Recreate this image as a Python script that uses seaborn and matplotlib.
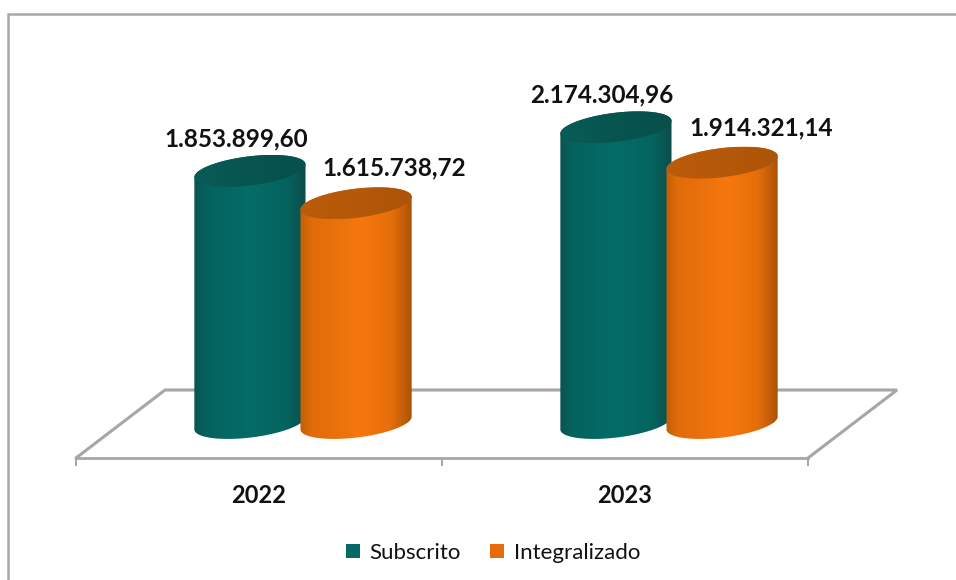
import numpy as np
import pandas as pd
import seaborn as sns
import matplotlib
matplotlib.use("Agg")
import matplotlib.pyplot as plt
from matplotlib.colors import LinearSegmentedColormap
from matplotlib.lines import Line2D
from matplotlib.path import Path

years = ["2022", "2023"]
series = ["Subscrito", "Integralizado"]
subscrito = [1853899.60, 2174304.96]
integralizado = [1615738.72, 1914321.14]
value_labels = {"Subscrito": ["1.853.899,60", "2.174.304,96"],
                "Integralizado": ["1.615.738,72", "1.914.321,14"]}

W, H = 956, 580
PX_PER_CAT = 366.0
PX_PER_UNIT = 136e-6
BASE_PX = 423
A, B, TILT = 56.0, 14.5, np.deg2rad(7.0)

sns.set_theme(style="white")
plt.rcParams["font.family"] = ["Lato", "DejaVu Sans"]

df = pd.DataFrame({
    "ano": years * 2,
    "serie": [series[0]] * 2 + [series[1]] * 2,
    "valor": subscrito + integralizado,
})

fig = plt.figure(figsize=(W / 100, H / 100), dpi=100, facecolor="white")

def rect(l, t, r, b):
    return [l / W, 1 - b / H, (r - l) / W, (b - t) / H]

# floor of the 3D chart, which carries the category axis
GRAY = "#a6a6a6"
floor = fig.add_axes(rect(76, 390, 808, 458))
floor.set_xlim(-0.5, 1.5)
floor.set_ylim(0, 1)
floor.patch.set_alpha(0)
for s in ["top", "left", "right"]:
    floor.spines[s].set_visible(False)
floor.spines["bottom"].set_color(GRAY)
floor.spines["bottom"].set_linewidth(2)
floor.set_yticks([])
floor.set_xticks([-0.5, 0.5, 1.5])
floor.set_xticklabels([])
floor.tick_params(axis="x", which="major", length=5.5, width=1.4, color=GRAY, bottom=True)
floor.set_xticks([0, 1], minor=True)
floor.set_xticklabels(years, minor=True, fontsize=17, fontweight="bold", color="#111111")
floor.tick_params(axis="x", which="minor", length=0, pad=19, bottom=True)
dx = 89 / 732
floor.plot([0, dx, 1 + dx, 1], [0, 1, 1, 0], transform=floor.transAxes, color=GRAY, lw=2.2,
           clip_on=False, solid_joinstyle="miter")

# bars
ax = fig.add_axes(rect(120, 14, 852, 458))
ax.patch.set_alpha(0)
sns.barplot(data=df, x="ano", y="valor", hue="serie", hue_order=series, order=years,
            palette=["#056a66", "#e56b0b"], width=0.58, gap=0, ax=ax, legend=True,
            saturation=1, edgecolor="none")
xlim = (-0.5, 1.5)
ylim = (-(458 - BASE_PX) / PX_PER_UNIT, (BASE_PX - 14) / PX_PER_UNIT)
handles, labels = ax.get_legend_handles_labels()
ax.get_legend().remove()

def body_map(stops):
    return LinearSegmentedColormap.from_list("c", stops)

styles = {
    "Subscrito": dict(
        body=body_map([(0, "#0a5450"), (0.1, "#05625e"), (0.5, "#046c68"),
                       (0.82, "#05645f"), (0.94, "#0a5653"), (1, "#0c4c49")]),
        top=body_map([(0, "#0a5c58"), (0.5, "#07544f"), (1, "#08504c")]),
    ),
    "Integralizado": dict(
        body=body_map([(0, "#c06008"), (0.1, "#e06c0a"), (0.55, "#f6770e"),
                       (0.82, "#e56e0b"), (0.94, "#c05c08"), (1, "#a85206")]),
        top=body_map([(0, "#bb5c0b"), (0.5, "#b55809"), (1, "#ad5408")]),
    ),
}
label_offsets = {"Subscrito": [(-14, 20), (-14, 21)], "Integralizado": [(38, 24), (39, 23)]}

def ellipse(cx, cy, t):
    ex = A * np.cos(t)
    ey = B * np.sin(t)
    px = ex * np.cos(TILT) - ey * np.sin(TILT)
    py = ex * np.sin(TILT) + ey * np.cos(TILT)
    return cx + px / PX_PER_CAT, cy + py / PX_PER_UNIT

def painted(path, cmap, x0, x1, y0, y1, z):
    grad = np.linspace(0, 1, 256).reshape(1, -1)
    im = ax.imshow(grad, cmap=cmap, extent=(x0, x1, y0, y1), aspect="auto",
                   interpolation="bilinear", zorder=z, vmin=0, vmax=1)
    im.set_clip_path(path, transform=ax.transData)

z = 3.0
for i in range(len(years)):
    for name, cont in zip(series, ax.containers):
        bar = cont[i]
        cx = bar.get_x() + bar.get_width() / 2
        h = bar.get_height()
        tl = np.linspace(0, np.pi, 60)            # upper half, right to left
        tb = np.linspace(np.pi, 2 * np.pi, 60)    # lower half, left to right
        bx, by = ellipse(cx, 0, tb)
        ux, uy = ellipse(cx, h, tl)
        pts = np.column_stack([np.r_[bx, ux], np.r_[by, uy]])
        body = Path(np.vstack([pts, pts[0]]), closed=True)
        bar.set_clip_path(body, transform=ax.transData)
        x0, x1 = cx - A / PX_PER_CAT, cx + A / PX_PER_CAT
        bar.set_zorder(z)
        painted(body, styles[name]["body"], x0, x1, by.min(), uy.max(), z + 0.1)
        fx, fy = ellipse(cx, h, np.linspace(0, 2 * np.pi, 120))
        top = Path(np.column_stack([fx, fy]), closed=True)
        painted(top, styles[name]["top"], x0, x1, fy.min(), fy.max(), z + 0.2)
        ax.annotate(value_labels[name][i], (cx, h), xytext=label_offsets[name][i],
                    textcoords="offset pixels", ha="center", va="bottom",
                    fontsize=17.5, fontweight="bold", color="#111111", zorder=20)
        z += 1

ax.set_xlim(*xlim)
ax.set_ylim(*ylim)
ax.set_axis_off()

# outer chart frame (left and top edges only are in view)
fig.add_artist(Line2D([8 / W, 8 / W, 1], [0, 1 - 14 / H, 1 - 14 / H],
                      color="#a8a8a8", lw=1.8, solid_joinstyle="miter"))

fig.legend(handles, labels, loc="center", bbox_to_anchor=(493 / W, 1 - 553 / H),
           ncol=2, frameon=False, fontsize=16, handlelength=0.62, handleheight=0.62,
           handletextpad=0.45, columnspacing=1.3, labelcolor="#111111")

fig.savefig("out.png", dpi=100)
